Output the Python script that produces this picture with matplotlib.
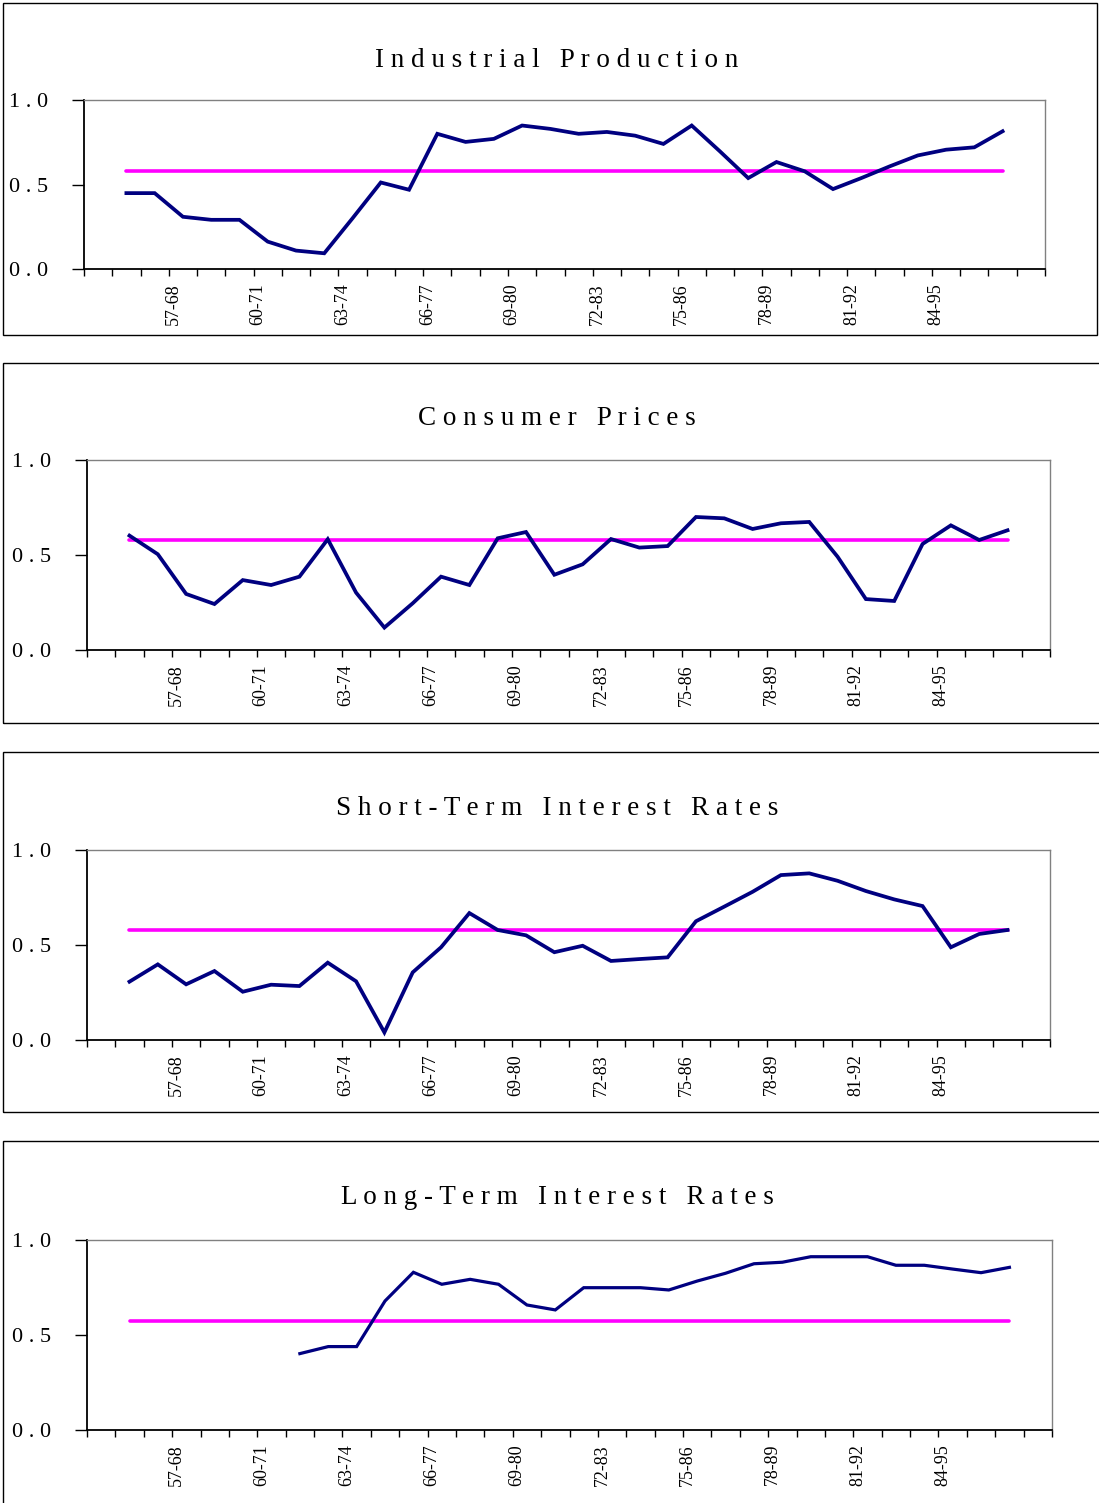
import numpy as np
import matplotlib.pyplot as plt
from matplotlib.patches import Rectangle

plt.rcParams['font.family'] = ['Liberation Serif', 'DejaVu Serif']

# ---- data (34 category slots, series occupy slots 1..32) ----
n_slots = 34
tick_labels = ["57-68", "60-71", "63-74", "66-77", "69-80",
               "72-83", "75-86", "78-89", "81-92", "84-95"]
tick_slots = [3, 6, 9, 12, 15, 18, 21, 24, 27, 30]
x_slots = np.arange(1, 33)

industrial = [0.449, 0.449, 0.309, 0.291, 0.291, 0.162, 0.109, 0.093,
              0.300, 0.512, 0.469, 0.800, 0.752, 0.770, 0.849, 0.829,
              0.800, 0.811, 0.789, 0.740, 0.849, 0.696, 0.538, 0.633,
              0.578, 0.473, 0.538, 0.607, 0.672, 0.706, 0.720, 0.815]
consumer = [0.602, 0.504, 0.295, 0.242, 0.368, 0.342, 0.386, 0.583,
            0.302, 0.118, 0.246, 0.386, 0.342, 0.588, 0.621, 0.396,
            0.451, 0.584, 0.539, 0.547, 0.700, 0.693, 0.637, 0.667,
            0.674, 0.491, 0.268, 0.258, 0.558, 0.656, 0.579, 0.630]
short_term = [0.307, 0.398, 0.293, 0.363, 0.254, 0.291, 0.284, 0.407,
              0.309, 0.040, 0.356, 0.488, 0.668, 0.579, 0.551, 0.462,
              0.496, 0.416, 0.426, 0.435, 0.625, 0.702, 0.780, 0.868,
              0.877, 0.838, 0.784, 0.740, 0.705, 0.488, 0.558, 0.579]
long_term = [np.nan, np.nan, np.nan, np.nan, np.nan, np.nan,
             0.402, 0.439, 0.439, 0.679, 0.830, 0.767, 0.793, 0.767,
             0.658, 0.632, 0.749, 0.749, 0.749, 0.737, 0.784, 0.825,
             0.875, 0.883, 0.912, 0.912, 0.912, 0.867, 0.867, 0.847,
             0.828, 0.856]
average = [0.578, 0.577, 0.579, 0.574]

titles = ["Industrial Production", "Consumer Prices",
          "Short-Term Interest Rates", "Long-Term Interest Rates"]
series = [industrial, consumer, short_term, long_term]
ytick_vals = [0.0, 0.5, 1.0]
ytick_text = ["0 . 0", "0 . 5", "1 . 0"]

W, H = 1099, 1503
# panel boxes and plot areas in pixels (x0, y0, x1, y1)
boxes = [(3, 3, 1097, 335), (3, 363, 1102, 723),
         (3, 752, 1102, 1112), (3, 1141, 1102, 1510)]
areas = [(84, 100, 1045, 269), (87, 460, 1050, 650),
         (87, 850, 1050, 1040), (87, 1240, 1052, 1430)]
title_base = [67, 425, 815, 1204]


def spread(s):
    return "   ".join(" ".join(w) for w in s.split())


def frac(x0, y0, x1, y1):
    return [x0 / W, 1 - y1 / H, (x1 - x0) / W, (y1 - y0) / H]


fig = plt.figure(figsize=(W / 100, H / 100), dpi=100)

for i in range(4):
    bx = boxes[i]
    fig.patches.append(Rectangle((bx[0] / W, 1 - bx[3] / H),
                                 (bx[2] - bx[0]) / W, (bx[3] - bx[1]) / H,
                                 transform=fig.transFigure, fill=False,
                                 edgecolor='black', linewidth=1.0))
    fig.text(557 / W, 1 - title_base[i] / H, spread(titles[i]), fontsize=19.5,
             ha='center', va='baseline')

    ax = fig.add_axes(frac(*areas[i]))
    ax.plot(x_slots, [average[i]] * len(x_slots), color='#FF00FF', lw=2.6,
            solid_capstyle='round')
    ax.plot(x_slots, series[i], color='#000080', lw=2.7 if i < 3 else 2.3,
            solid_joinstyle='miter')
    ax.set_xlim(-0.5, n_slots - 0.5)
    ax.set_ylim(0, 1)

    ax.set_yticks(ytick_vals)
    ax.set_yticklabels(ytick_text, fontsize=16)
    ax.tick_params(axis='y', direction='out', length=9, width=1, pad=17)

    ax.set_xticks(np.arange(-0.5, n_slots), minor=True)
    ax.set_xticks(np.array(tick_slots) - 0.35)
    ax.set_xticklabels(tick_labels, rotation=90, fontsize=13)
    ax.tick_params(axis='x', which='major', length=0, pad=10)
    ax.tick_params(axis='x', which='minor', direction='out', length=5,
                   width=1)

    for side in ['top', 'right']:
        ax.spines[side].set_color('#808080')
        ax.spines[side].set_linewidth(1.0)
    for side in ['left', 'bottom']:
        ax.spines[side].set_color('black')
        ax.spines[side].set_linewidth(1.3)

fig.savefig('out.png', dpi=100)
